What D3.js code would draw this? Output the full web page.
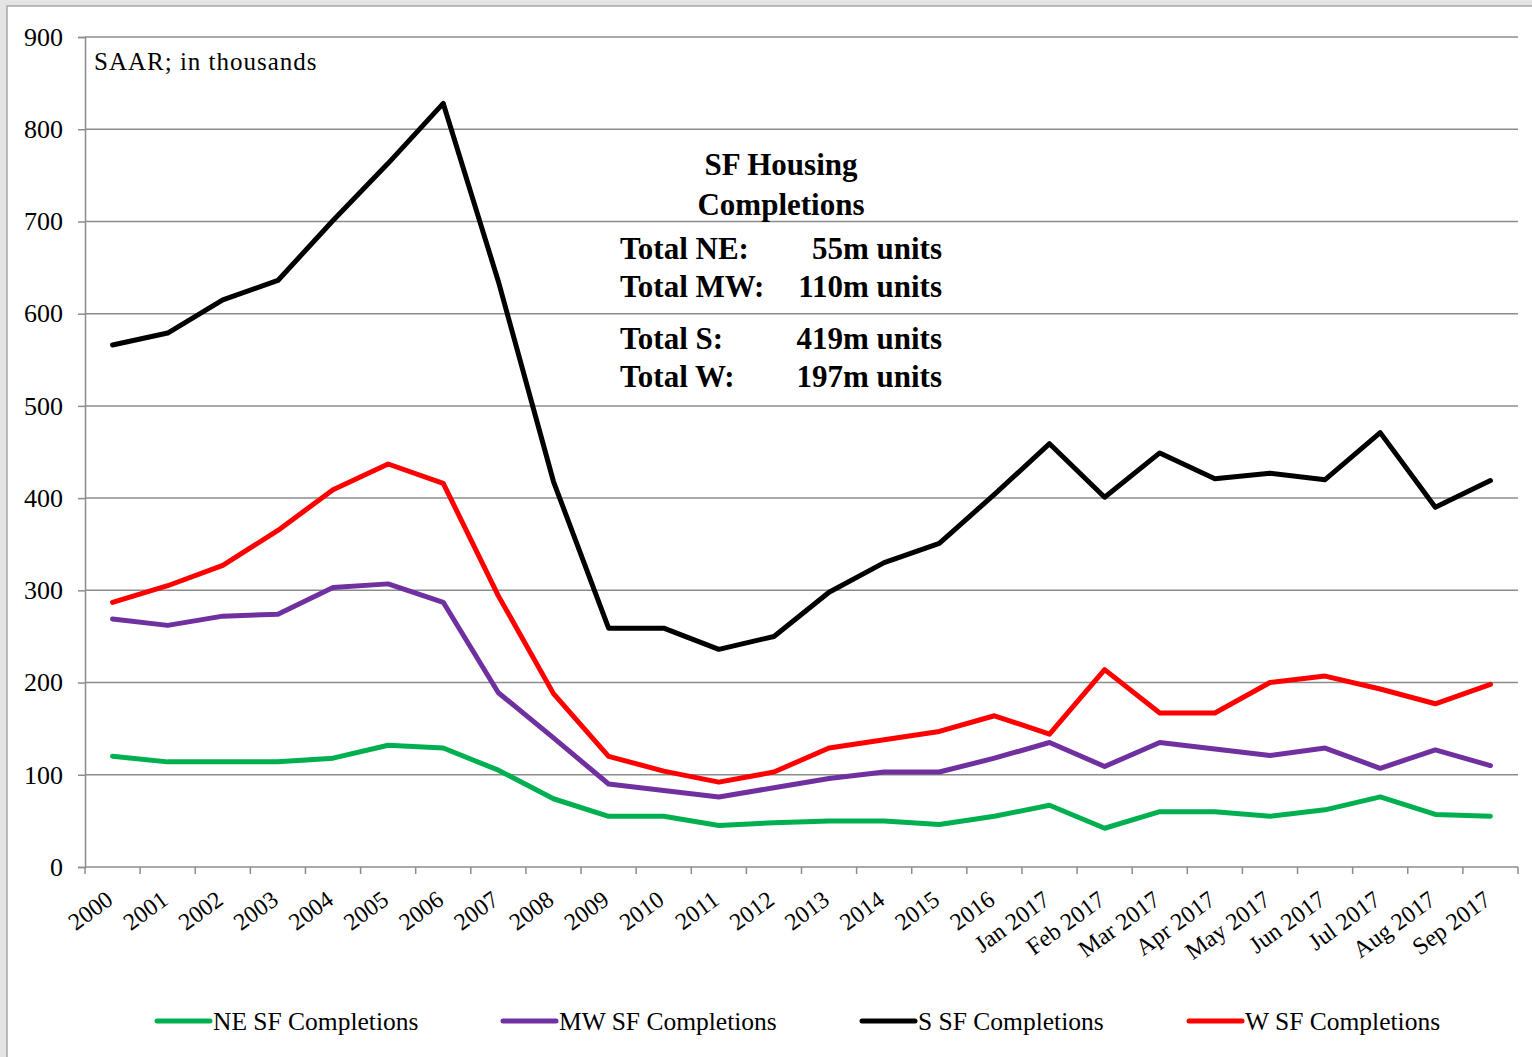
<!DOCTYPE html>
<html>
<head>
<meta charset="utf-8">
<script src="https://cdn.jsdelivr.net/npm/d3@7"></script>
<style>
  body { margin: 0; background: #fff; }
  svg { display: block; }
</style>
</head>
<body>
<div id="chart"></div>
<script>
// Categories and series (thousands, SAAR)
var categories = ["2000", "2001", "2002", "2003", "2004", "2005", "2006", "2007", "2008",
    "2009", "2010", "2011", "2012", "2013", "2014", "2015", "2016",
    "Jan 2017", "Feb 2017", "Mar 2017", "Apr 2017", "May 2017", "Jun 2017",
    "Jul 2017", "Aug 2017", "Sep 2017"];
var neValues = [120, 114, 114, 114, 118, 132, 129, 105, 74, 55, 55, 45, 48, 50, 50, 46, 55,
    67, 42, 60, 60, 55, 62, 76, 57, 55];
var mwValues = [269, 262, 272, 274, 303, 307, 287, 189, 140, 90, 83, 76, 86, 96, 103, 103, 118,
    135, 109, 135, 128, 121, 129, 107, 127, 110];
var sValues = [566, 579, 615, 636, 701, 763, 828, 635, 418, 259, 259, 236, 250, 298, 330, 351, 404,
    459, 401, 449, 421, 427, 420, 471, 390, 419];
var wValues = [287, 305, 327, 365, 409, 437, 416, 294, 188, 120, 104, 92, 103, 129, 138, 147, 164,
    144, 214, 167, 167, 200, 207, 193, 177, 198];
var seriesNames = ["NE SF Completions", "MW SF Completions", "S SF Completions", "W SF Completions"];
var seriesColors = ["#00b050", "#7030a0", "#000000", "#ff0000"];
var yTicks = [0, 100, 200, 300, 400, 500, 600, 700, 800, 900];
var noteTitle = ["SF Housing", "Completions"];
var noteLabels = ["Total NE:", "Total MW:", "Total S:", "Total W:"];
var noteValues = ["55m units", "110m units", "419m units", "197m units"];

var W = 1532, H = 1057;
var margin = {top: 37, right: 14, bottom: 190, left: 85},
    width = W - margin.left - margin.right,
    height = H - margin.top - margin.bottom;

var font = "'Liberation Serif', 'Times New Roman', serif";

var svg = d3.select("#chart")
    .append("svg")
    .attr("width", W)
    .attr("height", H)
    .style("font-family", font);

// Outer frame, like the pasted slide (top and left edges only)
svg.append("rect").attr("width", W).attr("height", H).attr("fill", "#e4e4e4");
svg.append("rect")
    .attr("x", 7).attr("y", 6)
    .attr("width", W - 7).attr("height", H - 6)
    .attr("fill", "#fff");
svg.append("path")
    .attr("d", `M7,${H}V6H${W}`)
    .attr("fill", "none")
    .attr("stroke", "#a6a6a6")
    .attr("stroke-width", 1.5);

var g = svg.append("g")
    .attr("transform", `translate(${margin.left},${margin.top})`);

var x = d3.scaleBand()
    .domain(categories)
    .range([0, width])
    .paddingInner(0)
    .paddingOuter(0);

var y = d3.scaleLinear()
    .domain([0, 900])
    .range([height, 0]);

// Gridlines
g.append("g")
    .selectAll("line")
    .data(yTicks.filter(d => d > 0))
    .join("line")
    .attr("x1", 0)
    .attr("x2", width)
    .attr("y1", d => y(d))
    .attr("y2", d => y(d))
    .attr("stroke", "#8c8c8c")
    .attr("stroke-width", 1.5);

// Y axis
var yAxis = g.append("g")
    .call(d3.axisLeft(y).tickValues(yTicks).tickSize(7).tickPadding(15).tickFormat(d3.format("d")));
yAxis.select(".domain").attr("stroke", "#8c8c8c").attr("stroke-width", 1.5);
yAxis.selectAll(".tick line").attr("stroke", "#8c8c8c").attr("stroke-width", 1.5);
yAxis.selectAll("text")
    .style("font-family", font)
    .style("font-size", "26px")
    .attr("fill", "#000");

// X axis: ticks between categories
var xAxis = g.append("g")
    .attr("transform", `translate(0,${height})`);
xAxis.append("line")
    .attr("x1", 0).attr("x2", width)
    .attr("stroke", "#8c8c8c").attr("stroke-width", 1.5);
xAxis.selectAll(".xtick")
    .data(categories.concat(["end"]))
    .join("line")
    .attr("class", "xtick")
    .attr("x1", (d, i) => i < categories.length ? x(d) : width)
    .attr("x2", (d, i) => i < categories.length ? x(d) : width)
    .attr("y1", 0).attr("y2", 7)
    .attr("stroke", "#8c8c8c").attr("stroke-width", 1.5);
xAxis.selectAll(".xlabel")
    .data(categories)
    .join("text")
    .attr("class", "xlabel")
    .attr("text-anchor", "end")
    .attr("transform", d => `translate(${x(d) + x.bandwidth() / 2 + 2},${36}) rotate(-36)`)
    .style("font-size", "24px")
    .attr("fill", "#000")
    .text(d => d);

// Lines
var allSeries = [neValues, mwValues, sValues, wValues];
var line = d3.line()
    .x((d, i) => x(categories[i]) + x.bandwidth() / 2)
    .y(d => y(d));

g.selectAll(".series")
    .data(allSeries)
    .join("path")
    .attr("class", "series")
    .attr("fill", "none")
    .attr("stroke", (d, i) => seriesColors[i])
    .attr("stroke-width", 5)
    .attr("stroke-linejoin", "round")
    .attr("stroke-linecap", "round")
    .attr("d", line);

// Unit note
svg.append("text")
    .attr("x", 94)
    .attr("y", 70)
    .style("font-size", "25px")
    .style("letter-spacing", "1px")
    .text("SAAR; in thousands");

// Annotation block
var note = svg.append("g")
    .style("font-weight", "bold")
    .style("font-size", "31px")
    .attr("fill", "#000");
note.selectAll(".title")
    .data(noteTitle)
    .join("text")
    .attr("class", "title")
    .attr("x", 781)
    .attr("y", (d, i) => 175 + i * 40)
    .attr("text-anchor", "middle")
    .text(d => d);
var rowY = [259, 297, 349, 387];
note.selectAll(".lab")
    .data(noteLabels)
    .join("text")
    .attr("class", "lab")
    .attr("x", 620)
    .attr("y", (d, i) => rowY[i])
    .text(d => d);
note.selectAll(".val")
    .data(noteValues)
    .join("text")
    .attr("class", "val")
    .attr("x", 942)
    .attr("y", (d, i) => rowY[i])
    .attr("text-anchor", "end")
    .text(d => d);

// Legend
var legendX = [157, 503, 862, 1189];
var legend = svg.selectAll(".legend")
    .data(seriesNames)
    .join("g")
    .attr("class", "legend")
    .attr("transform", (d, i) => `translate(${legendX[i]},1021)`);
legend.append("line")
    .attr("x1", 0).attr("x2", 53)
    .attr("stroke", (d, i) => seriesColors[i])
    .attr("stroke-width", 5)
    .attr("stroke-linecap", "round");
legend.append("text")
    .attr("x", 56)
    .attr("y", 9)
    .style("font-size", "25.5px")
    .attr("fill", "#000")
    .text(d => d);
</script>
</body>
</html>
